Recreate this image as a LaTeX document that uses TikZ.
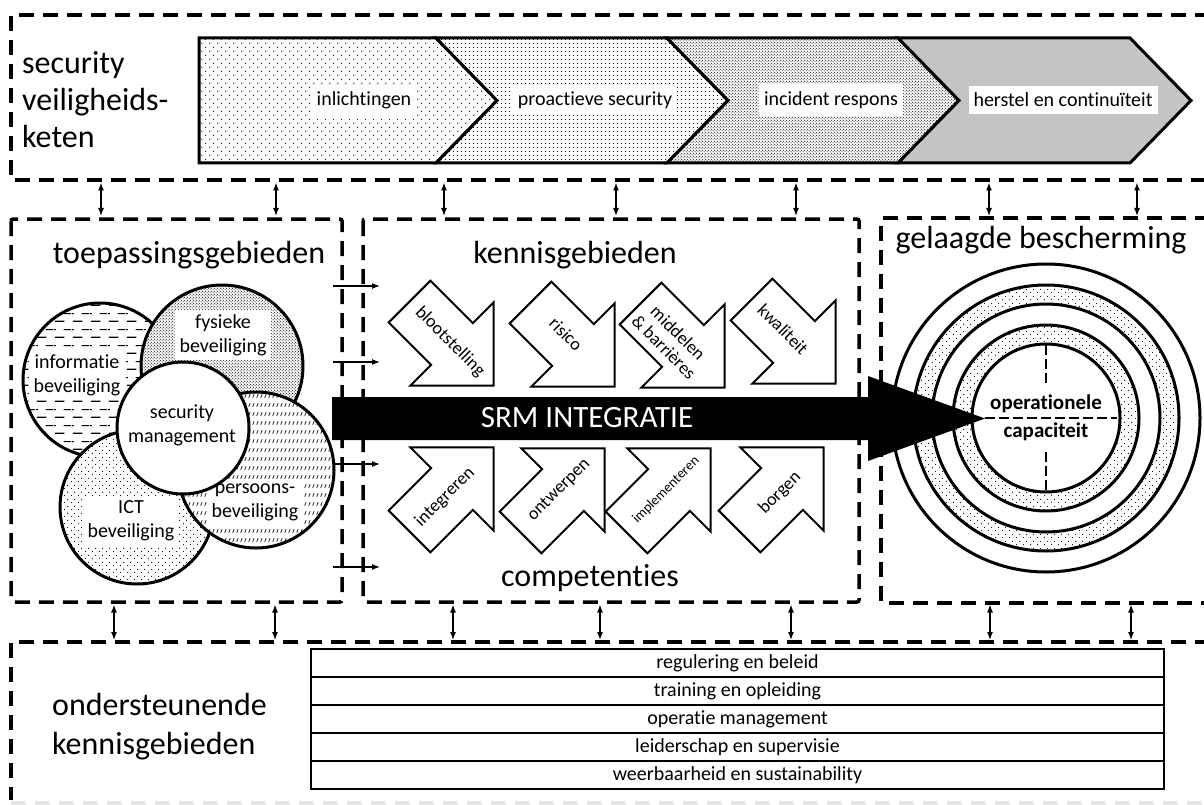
\documentclass[tikz,border=0pt]{standalone}
\usepackage{fontspec}
\setmainfont{Carlito}[Ligatures={NoCommon,NoContextual}]
\usetikzlibrary{arrows.meta,patterns}
\pgfdeclarepatternformonly{dotsA}{\pgfqpoint{0pt}{0pt}}{\pgfqpoint{8pt}{8pt}}{\pgfqpoint{8pt}{8pt}}{%
  \pgfpathcircle{\pgfqpoint{2pt}{2pt}}{0.65pt}\pgfpathcircle{\pgfqpoint{6pt}{6pt}}{0.65pt}\pgfusepath{fill}}
\pgfdeclarepatternformonly{dotsR}{\pgfqpoint{0pt}{0pt}}{\pgfqpoint{7pt}{7pt}}{\pgfqpoint{7pt}{7pt}}{%
  \pgfpathcircle{\pgfqpoint{1.75pt}{1.75pt}}{0.6pt}\pgfpathcircle{\pgfqpoint{5.25pt}{5.25pt}}{0.6pt}\pgfusepath{fill}}
\pgfdeclarepatternformonly{dotsB}{\pgfqpoint{0pt}{0pt}}{\pgfqpoint{4pt}{4pt}}{\pgfqpoint{4pt}{4pt}}{%
  \pgfpathcircle{\pgfqpoint{2pt}{2pt}}{0.65pt}\pgfusepath{fill}}
\pgfdeclarepatternformonly{dotsC}{\pgfqpoint{0pt}{0pt}}{\pgfqpoint{3.4pt}{3.4pt}}{\pgfqpoint{3.4pt}{3.4pt}}{%
  \pgfpathcircle{\pgfqpoint{0.85pt}{0.85pt}}{0.6pt}\pgfpathcircle{\pgfqpoint{2.55pt}{2.55pt}}{0.6pt}\pgfusepath{fill}}
\pgfdeclarepatternformonly{dotsD}{\pgfqpoint{0pt}{0pt}}{\pgfqpoint{2.4pt}{2.4pt}}{\pgfqpoint{2.4pt}{2.4pt}}{%
  \pgfpathcircle{\pgfqpoint{1.2pt}{1.2pt}}{0.72pt}\pgfusepath{fill}}
\pgfdeclarepatternformonly{hdash}{\pgfqpoint{0pt}{0pt}}{\pgfqpoint{18pt}{16pt}}{\pgfqpoint{18pt}{16pt}}{%
  \pgfsetlinewidth{1.2pt}%
  \pgfpathmoveto{\pgfqpoint{1pt}{4pt}}\pgfpathlineto{\pgfqpoint{11pt}{4pt}}%
  \pgfpathmoveto{\pgfqpoint{10pt}{12pt}}\pgfpathlineto{\pgfqpoint{18pt}{12pt}}%
  \pgfpathmoveto{\pgfqpoint{0pt}{12pt}}\pgfpathlineto{\pgfqpoint{2pt}{12pt}}%
  \pgfusepath{stroke}}
\pgfdeclarepatternformonly{slashes}{\pgfqpoint{0pt}{0pt}}{\pgfqpoint{4pt}{9pt}}{\pgfqpoint{4pt}{9pt}}{%
  \pgfsetlinewidth{0.8pt}%
  \pgfpathmoveto{\pgfqpoint{0.9pt}{2.5pt}}\pgfpathlineto{\pgfqpoint{2.7pt}{6.5pt}}\pgfusepath{stroke}}
\begin{document}
\begin{tikzpicture}[x=1pt,y=-1pt,
  dashedbox/.style={line width=3.5pt, dash pattern=on 15pt off 9pt},
  chev/.style={draw, line width=3pt, line join=miter, preaction={fill=white}},
  chevtext/.style={fill=white, font=\fontsize{20}{24}\selectfont, inner xsep=5pt, inner ysep=7pt},
  head/.style={font=\fontsize{32}{37}\selectfont, inner sep=0pt},
  ctext/.style={font=\fontsize{20}{24}\selectfont, align=center, inner xsep=5pt, inner ysep=4pt},
  cline/.style={line width=3pt},
  dbl/.style={line width=1.3pt, {Latex[length=8pt,width=6pt]}-{Latex[length=8pt,width=6pt]}},
  sgl/.style={line width=1.3pt, -{Latex[length=8pt,width=6pt]}},
  karrow/.style={draw, line width=2pt, fill=white, line join=miter},
  ktext/.style={font=\fontsize{18}{20}\selectfont, align=center, inner sep=0pt},
  rowbox/.style={draw, line width=1.3pt, minimum width=853pt, minimum height=28pt, inner sep=0pt, font=\fontsize{20}{22}\selectfont},
]
\useasboundingbox (0,0) rectangle (1204,805);
\fill[white] (0,0) rectangle (1204,805);

% ---------- top band ----------
\draw[dashedbox] (1210,15) -- (11,15) -- (11,180) -- (1210,180);
\node[head, align=left, anchor=west, font=\fontsize{32}{37}\selectfont] (sec) at (22,100) {security\\veiligheids-\\keten};

\draw[chev, pattern=dotsA] (199,38) -- (436,38) -- (497,100.5) -- (436,163) -- (199,163) -- cycle;
\draw[chev, pattern=dotsB] (436,38) -- (667,38) -- (728,100.5) -- (667,163) -- (436,163) -- (497,100.5) -- cycle;
\draw[chev, pattern=dotsC] (667,38) -- (898,38) -- (959,100.5) -- (898,163) -- (667,163) -- (728,100.5) -- cycle;
\draw[chev, pattern=dotsD] (898,38) -- (1130,38) -- (1191,100.5) -- (1130,163) -- (898,163) -- (959,100.5) -- cycle;
\node[chevtext] (c1) at (364,100) {inlichtingen};
\node[chevtext] (c2) at (595,100) {proactieve security};
\node[chevtext] (c3) at (831,100) {incident respons};
\node[chevtext] (c4) at (1063,100) {herstel en continuïteit};

% ---------- middle band boxes ----------
\draw[dashedbox, rounded corners=2pt] (11,219) rectangle (342,602);
\draw[dashedbox, rounded corners=2pt] (363,219) rectangle (859,602);
\draw[dashedbox, rounded corners=2pt] (1210,218) -- (881,218) -- (881,603) -- (1210,603);

\node[head] (toep) at (189,255) {toepassingsgebieden};
\node[head] (kenn) at (575,255) {kennisgebieden};
\node[head] (comp) at (590,578) {competenties};
\node[head] (gel) at (1041,240) {gelaagde bescherming};

% ---------- application-area circles ----------
\path[preaction={fill=white}, pattern=hdash] (100,380) circle (77);
\node[ctext, fill=white] (info) at (77,375) {informatie\\beveiliging};
\draw[cline] (100,380) circle (77);

\path[preaction={fill=white}, pattern=dotsC] (222,366) circle (81);
\node[ctext, fill=white] (fys) at (223,335) {fysieke\\beveiliging};
\draw[cline] (222,366) circle (81);

\path[preaction={fill=white}, pattern=dotsR] (137,507) circle (77);
\node[ctext, fill=white] (ict) at (131,521) {ICT\\beveiliging};
\draw[cline] (137,507) circle (77);

\path[preaction={fill=white}, pattern=slashes] (256,470) circle (78);
\node[ctext, fill=white] (pers) at (255,502) {persoons-\\beveiliging};
\draw[cline] (256,470) circle (78);

\draw[cline, fill=white] (183,428) circle (66);
\node[ctext] (sm) at (182,425) {security\\management};

% ---------- layered protection ----------
\draw[cline, fill=white] (1046,418) circle (154);
\draw[cline, preaction={fill=white}, pattern=dotsR] (1046,418) circle (133);
\draw[cline, fill=white] (1046,418) circle (114);
\draw[cline, preaction={fill=white}, pattern=dotsR] (1046,418) circle (93);
\draw[cline, fill=white] (1046,418) circle (74);
\coordinate (vt) at (1046,345);
\coordinate (vtb) at (1046,385);
\coordinate (vb) at (1046,452);
\coordinate (vbb) at (1046,491);
\coordinate (hl) at (985,418);
\coordinate (hr) at (1117,418);
\draw[line width=2.5pt, dash pattern=on 10pt off 4pt] (vt) -- (vtb);
\draw[line width=2.5pt, dash pattern=on 10pt off 4pt] (vb) -- (vbb);
\draw[line width=2.5pt, dash pattern=on 10pt off 4pt] (hl) -- (hr);
\node[font=\bfseries\fontsize{21}{24}\selectfont, inner sep=0pt] (op) at (1046,404) {operationele};
\node[font=\bfseries\fontsize{21}{24}\selectfont, inner sep=0pt] (cap) at (1046,432) {capaciteit};

% ---------- knowledge / competence arrows ----------
\foreach \cx/\cy/\ang in {452/344/-45, 573/345/-45, 683/346/-45, 794/342/-45, 452/489/45, 563/490/45, 669/490/45, 782/489/45}
  \draw[karrow, shift={(\cx,\cy)}, rotate=\ang] (-60,-29.5) -- (0,-29.5) -- (0,-59) -- (59,0) -- (0,59) -- (0,29.5) -- (-60,29.5) -- cycle;
\node[ktext, rotate=-45] (k1) at (450,342) {blootstelling};
\node[ktext, rotate=-45] (k2) at (566,334) {risico};
\node[ktext, rotate=-45] (k3) at (671,340) {middelen\\\& barrières};
\node[ktext, rotate=-45] (k4) at (783,329) {kwaliteit};
\node[ktext, rotate=45] (m1) at (445,497) {integreren};
\node[ktext, rotate=45] (m2) at (559,490) {ontwerpen};
\node[ktext, rotate=45, font=\fontsize{14}{16}\selectfont] (m3) at (666,490) {implementeren};
\node[ktext, rotate=45] (m4) at (780,493) {borgen};

% ---------- SRM integration arrow ----------
\fill[black] (332,397) -- (868,397) -- (868,376) -- (985,418.5) -- (868,461) -- (868,440) -- (332,440) -- cycle;
\node[text=white, font=\fontsize{31}{36}\selectfont, inner sep=0pt] (srm) at (587,418) {SRM INTEGRATIE};

% ---------- connectors ----------
\foreach \x [count=\i] in {101,276,444,616,796,989,1137} {
  \coordinate (ta\i) at (\x,182.5);
  \coordinate (tb\i) at (\x,216);
  \draw[dbl] (ta\i) -- (tb\i);
}
\foreach \x [count=\i] in {114,275,453,600,791,990,1131} {
  \coordinate (ba\i) at (\x,604.5);
  \coordinate (bb\i) at (\x,640);
  \draw[dbl] (ba\i) -- (bb\i);
}
\foreach \y [count=\i] in {286,362,464,567} {
  \coordinate (ha\i) at (333,\y);
  \coordinate (hb\i) at (380,\y);
  \draw[sgl] (ha\i) -- (hb\i);
}

% ---------- bottom band ----------
\draw[dashedbox] (1210,642) -- (11,642) -- (11,800);
\draw[dashedbox, black!10] (11,803) -- (1210,803);
\node[head, align=left, anchor=west, font=\fontsize{32}{39}\selectfont] (ond) at (52,727) {ondersteunende\\kennisgebieden};
\node[rowbox] (r1) at (737.5,663) {regulering en beleid};
\node[rowbox] (r2) at (737.5,691) {training en opleiding};
\node[rowbox] (r3) at (737.5,719) {operatie management};
\node[rowbox] (r4) at (737.5,747) {leiderschap en supervisie};
\node[rowbox] (r5) at (737.5,775) {weerbaarheid en sustainability};
\end{tikzpicture}
\end{document}
